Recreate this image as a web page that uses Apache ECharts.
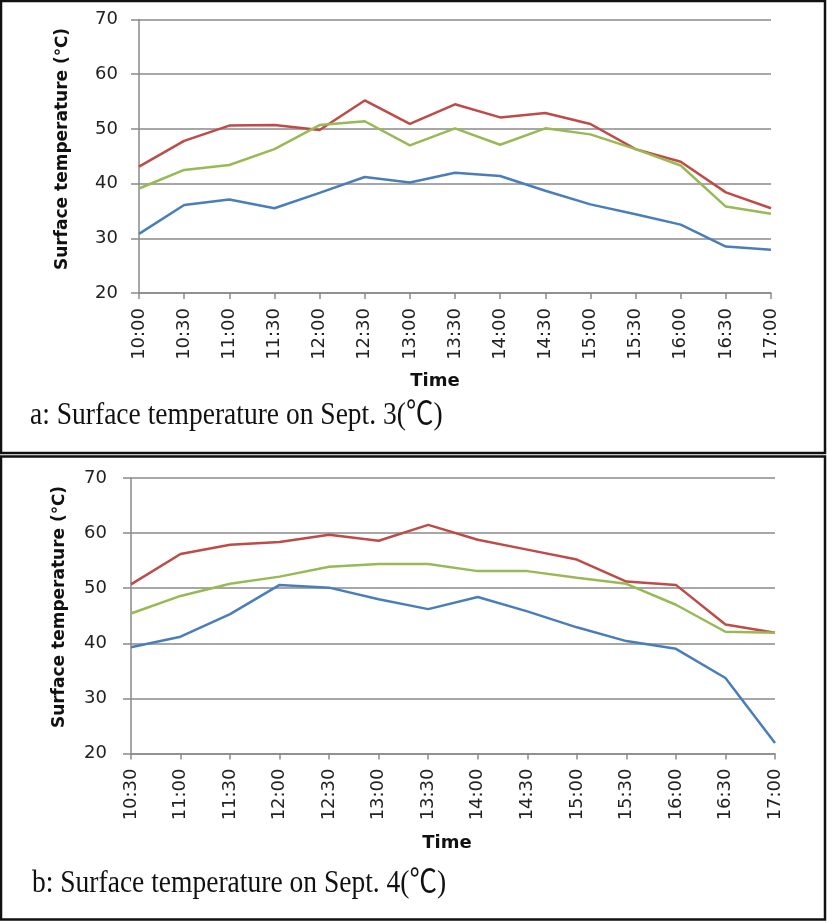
<!DOCTYPE html>
<html>
<head>
<meta charset="utf-8">
<script src="https://cdn.jsdelivr.net/npm/echarts@6/dist/echarts.min.js"></script>
<style>
html,body{margin:0;padding:0;background:#fff;}
#c{width:827px;height:921px;}
</style>
</head>
<body>
<div id="c"></div>
<script>
// Panel a: Sept. 3
var cats1 = ['10:00','10:30','11:00','11:30','12:00','12:30','13:00','13:30','14:00','14:30','15:00','15:30','16:00','16:30','17:00'];
var blue1  = [30.8,36.1,37.1,35.5,38.3,41.2,40.2,42.0,41.4,38.7,36.2,34.4,32.5,28.5,27.9];
var red1   = [43.1,47.8,50.6,50.7,49.8,55.2,50.9,54.5,52.1,52.9,50.9,46.3,44.0,38.4,35.5];
var green1 = [39.1,42.5,43.4,46.3,50.7,51.4,47.0,50.1,47.1,50.1,49.0,46.3,43.3,35.8,34.5];

// Panel b: Sept. 4
var cats2 = ['10:30','11:00','11:30','12:00','12:30','13:00','13:30','14:00','14:30','15:00','15:30','16:00','16:30','17:00'];
var blue2  = [39.3,41.2,45.3,50.6,50.1,48.0,46.2,48.4,45.8,42.9,40.4,39.0,33.7,21.9];
var red2   = [50.7,56.2,57.9,58.4,59.7,58.6,61.5,58.8,57.0,55.2,51.2,50.6,43.4,41.9];
var green2 = [45.4,48.6,50.8,52.1,53.9,54.4,54.4,53.1,53.1,51.9,50.8,47.0,42.1,41.9];

var yTicks = [20,30,40,50,60,70];
var yName = 'Surface temperature (℃)';
var xName = 'Time';
var captionA = 'a: Surface temperature on Sept. 3(℃)';
var captionB = 'b: Surface temperature on Sept. 4(℃)';

var C_BLUE = '#4A7EBB', C_RED = '#BE4B48', C_GREEN = '#98B954';
var AX = '#8a8a8a';
var LBL = {fontFamily:'DejaVu Sans', fontSize:18, color:'#222'};
var CAP_FONT = '32px "Liberation Serif", "Noto Sans CJK KR", serif';

function xAxis(gi, cats){
  return {
    type:'category', gridIndex:gi, data:cats, boundaryGap:false,
    axisLine:{show:true, lineStyle:{color:AX, width:1.5}},
    axisTick:{show:true, alignWithLabel:true, length:6, lineStyle:{color:AX, width:1.5}},
    axisLabel:Object.assign({rotate:90, margin:15, interval:0}, LBL),
    splitLine:{show:false}
  };
}
function yAxis(gi, margin){
  return {
    type:'value', gridIndex:gi, min:yTicks[0], max:yTicks[yTicks.length-1], interval:10,
    axisLine:{show:true, lineStyle:{color:AX, width:1.5}},
    axisTick:{show:true, length:8, lineStyle:{color:AX, width:1.5}},
    axisLabel:Object.assign({margin:margin}, LBL),
    splitLine:{show:true, lineStyle:{color:AX, width:1.5}}
  };
}
function line(name, xi, data, color){
  return {
    name:name, type:'line', xAxisIndex:xi, yAxisIndex:xi, data:data,
    symbol:'none', smooth:false, animation:false,
    lineStyle:{color:color, width:2.5}, itemStyle:{color:color}
  };
}

var chart = echarts.init(document.getElementById('c'), null, {renderer:'canvas'});
chart.setOption({
  animation:false,
  backgroundColor:'#fff',
  grid:[
    {left:139, top:19.5, width:632, height:273.5},
    {left:131, top:478, width:644, height:275.5}
  ],
  xAxis:[xAxis(0,cats1), xAxis(1,cats2)],
  yAxis:[yAxis(0,21), yAxis(1,24)],
  series:[
    line('blue-a',0,blue1,C_BLUE), line('red-a',0,red1,C_RED), line('green-a',0,green1,C_GREEN),
    line('blue-b',1,blue2,C_BLUE), line('red-b',1,red2,C_RED), line('green-b',1,green2,C_GREEN)
  ],
  graphic:[
    {type:'rect', shape:{x:1,y:1,width:824,height:452}, style:{fill:'none', stroke:'#111', lineWidth:2.5}, silent:true},
    {type:'rect', shape:{x:1,y:456.5,width:824,height:463}, style:{fill:'none', stroke:'#111', lineWidth:2.5}, silent:true},
    {type:'text', x:63, y:149, rotation:Math.PI/2,
      style:{text:yName, font:'bold 17px "DejaVu Sans"', fill:'#111', textAlign:'center', textVerticalAlign:'middle', align:'center', verticalAlign:'middle'}},
    {type:'text', x:60, y:607, rotation:Math.PI/2,
      style:{text:yName, font:'bold 17px "DejaVu Sans"', fill:'#111', textAlign:'center', textVerticalAlign:'middle', align:'center', verticalAlign:'middle'}},
    {type:'text', x:435, y:381,
      style:{text:xName, font:'bold 18px "DejaVu Sans"', fill:'#111', textAlign:'center', textVerticalAlign:'middle', align:'center', verticalAlign:'middle'}},
    {type:'text', x:447, y:843,
      style:{text:xName, font:'bold 18px "DejaVu Sans"', fill:'#111', textAlign:'center', textVerticalAlign:'middle', align:'center', verticalAlign:'middle'}},
    {type:'text', x:30, y:416, scaleX:0.86,
      style:{text:captionA, font:CAP_FONT, fill:'#111', textAlign:'left', textVerticalAlign:'middle', align:'left', verticalAlign:'middle'}},
    {type:'text', x:32, y:884, scaleX:0.86,
      style:{text:captionB, font:CAP_FONT, fill:'#111', textAlign:'left', textVerticalAlign:'middle', align:'left', verticalAlign:'middle'}}
  ]
});
</script>
</body>
</html>
